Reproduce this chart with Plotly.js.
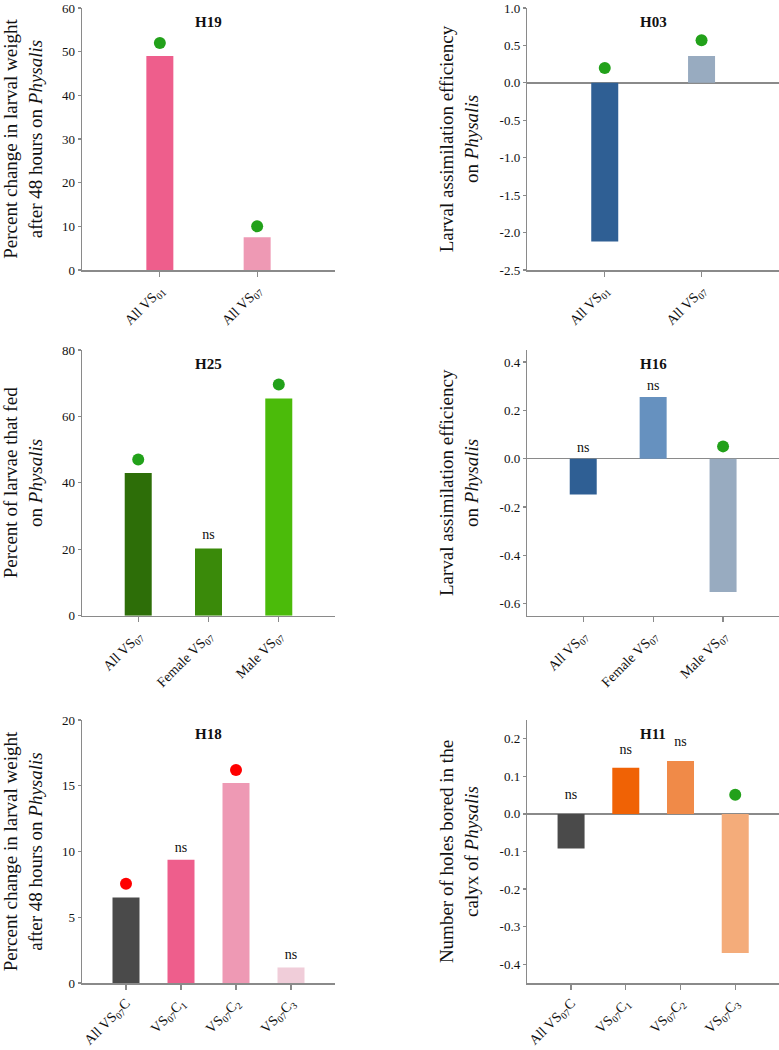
<!DOCTYPE html>
<html>
<head>
<meta charset="utf-8">
<script src="https://cdn.plot.ly/plotly-3.0.1.min.js"></script>
<style>html,body{margin:0;padding:0;background:#fff;}#chart{width:779px;height:1050px;}</style>
</head>
<body>
<div id="chart"></div>
<script>
// ---- Data ----
const h19Categories = ["All VS<sub>01</sub>", "All VS<sub>07</sub>"];
const h19Values = [49, 7.5];
const h19Colors = ["#EE5E8C", "#EE99B4"];
const h19Sig = ["green", "green"];
const h19SigY = [52, 10];

const h03Categories = ["All VS<sub>01</sub>", "All VS<sub>07</sub>"];
const h03Values = [-2.12, 0.36];
const h03Colors = ["#2F5F94", "#98ABC0"];
const h03Sig = ["green", "green"];
const h03SigY = [0.2, 0.57];

const h25Categories = ["All VS<sub>07</sub>", "Female VS<sub>07</sub>", "Male VS<sub>07</sub>"];
const h25Values = [43, 20.2, 65.4];
const h25Colors = ["#2D6E08", "#3A8A0A", "#4BBB0A"];
const h25Sig = ["green", "ns", "green"];
const h25SigY = [47, 24, 69.6];

const h16Categories = ["All VS<sub>07</sub>", "Female VS<sub>07</sub>", "Male VS<sub>07</sub>"];
const h16Values = [-0.148, 0.255, -0.552];
const h16Colors = ["#2F5F94", "#6691BF", "#98ABC0"];
const h16Sig = ["ns", "ns", "green"];
const h16SigY = [0.044, 0.297, 0.051];

const h18Categories = ["All VS<sub>07</sub>C", "VS<sub>07</sub>C<sub>1</sub>", "VS<sub>07</sub>C<sub>2</sub>", "VS<sub>07</sub>C<sub>3</sub>"];
const h18Values = [6.5, 9.37, 15.2, 1.18];
const h18Colors = ["#4A4A4A", "#EE5E8C", "#EE99B4", "#F0CDD9"];
const h18Sig = ["red", "ns", "red", "ns"];
const h18SigY = [7.54, 10.25, 16.2, 2.09];

const h11Categories = ["All VS<sub>07</sub>C", "VS<sub>07</sub>C<sub>1</sub>", "VS<sub>07</sub>C<sub>2</sub>", "VS<sub>07</sub>C<sub>3</sub>"];
const h11Values = [-0.092, 0.123, 0.141, -0.37];
const h11Colors = ["#4A4A4A", "#F06205", "#F08A48", "#F4AC7A"];
const h11Sig = ["ns", "ns", "ns", "green"];
const h11SigY = [0.048, 0.17, 0.189, 0.051];

const tickVals1 = [0, 10, 20, 30, 40, 50, 60];
const tickText1 = ["0", "10", "20", "30", "40", "50", "60"];
const tickVals2 = [-2.5, -2.0, -1.5, -1.0, -0.5, 0.0, 0.5, 1.0];
const tickText2 = ["-2.5", "-2.0", "-1.5", "-1.0", "-0.5", "0.0", "0.5", "1.0"];
const tickVals3 = [0, 20, 40, 60, 80];
const tickText3 = ["0", "20", "40", "60", "80"];
const tickVals4 = [-0.6, -0.4, -0.2, 0.0, 0.2, 0.4];
const tickText4 = ["-0.6", "-0.4", "-0.2", "0.0", "0.2", "0.4"];
const tickVals5 = [0, 5, 10, 15, 20];
const tickText5 = ["0", "5", "10", "15", "20"];
const tickVals6 = [-0.4, -0.3, -0.2, -0.1, 0.0, 0.1, 0.2];
const tickText6 = ["-0.4", "-0.3", "-0.2", "-0.1", "0.0", "0.1", "0.2"];

const yTitle1 = "Percent change in larval weight<br>after 48 hours on <i>Physalis</i>";
const yTitle2 = "Larval assimilation efficiency<br>on <i>Physalis</i>";
const yTitle3 = "Percent of larvae that fed<br>on <i>Physalis</i>";
const yTitle4 = "Larval assimilation efficiency<br>on <i>Physalis</i>";
const yTitle5 = "Percent change in larval weight<br>after 48 hours on <i>Physalis</i>";
const yTitle6 = "Number of holes bored in the<br>calyx of <i>Physalis</i>";

// ---- Build ----
const FONT = "Liberation Serif";
const GREEN = "#22A11A", RED = "#FF0000", AXIS = "#8A8A8A";
const W = 779, H = 1050;

const panels = [
  {name: "H19", cats: h19Categories, vals: h19Values, colors: h19Colors, sig: h19Sig, sigY: h19SigY,
   tv: tickVals1, tt: tickText1, yr: [0, 60], title: yTitle1, px: [82, 335], py: [8, 270], zero: false},
  {name: "H03", cats: h03Categories, vals: h03Values, colors: h03Colors, sig: h03Sig, sigY: h03SigY,
   tv: tickVals2, tt: tickText2, yr: [-2.5, 1.0], title: yTitle2, px: [527.3, 779], py: [8, 270], zero: true},
  {name: "H25", cats: h25Categories, vals: h25Values, colors: h25Colors, sig: h25Sig, sigY: h25SigY,
   tv: tickVals3, tt: tickText3, yr: [0, 80], title: yTitle3, px: [82, 335], py: [350, 615.7], zero: false},
  {name: "H16", cats: h16Categories, vals: h16Values, colors: h16Colors, sig: h16Sig, sigY: h16SigY,
   tv: tickVals4, tt: tickText4, yr: [-0.65, 0.45], title: yTitle4, px: [527.3, 779], py: [350, 615.7], zero: true},
  {name: "H18", cats: h18Categories, vals: h18Values, colors: h18Colors, sig: h18Sig, sigY: h18SigY,
   tv: tickVals5, tt: tickText5, yr: [0, 20], title: yTitle5, px: [82, 335], py: [720, 983], zero: false},
  {name: "H11", cats: h11Categories, vals: h11Values, colors: h11Colors, sig: h11Sig, sigY: h11SigY,
   tv: tickVals6, tt: tickText6, yr: [-0.45, 0.25], title: yTitle6, px: [527.3, 779], py: [720, 983], zero: true}
];

const data = [];
const layout = {
  width: W, height: H,
  margin: {l: 0, r: 0, t: 0, b: 0},
  paper_bgcolor: "#fff", plot_bgcolor: "rgba(0,0,0,0)",
  showlegend: false,
  font: {family: FONT, color: "#111", size: 13},
  annotations: []
};

panels.forEach((p, i) => {
  const k = i + 1;
  const xa = k === 1 ? "x" : "x" + k;
  const ya = k === 1 ? "y" : "y" + k;
  const n = p.cats.length;
  const plotW = p.px[1] - p.px[0];
  const barW = 27 / (plotW / (n + 0.6));

  data.push({
    type: "bar", x: p.cats, y: p.vals, xaxis: xa, yaxis: ya,
    marker: {color: p.colors, line: {width: 0}}, width: barW,
    hoverinfo: "x+y"
  });
  data.push({
    type: "scatter", mode: "markers", xaxis: xa, yaxis: ya,
    x: p.cats, y: p.sig.map((s, j) => s === "green" ? p.sigY[j] : null),
    marker: {color: GREEN, size: 12}, cliponaxis: false
  });
  data.push({
    type: "scatter", mode: "markers", xaxis: xa, yaxis: ya,
    x: p.cats, y: p.sig.map((s, j) => s === "red" ? p.sigY[j] : null),
    marker: {color: RED, size: 12}, cliponaxis: false
  });
  data.push({
    type: "scatter", mode: "text", xaxis: xa, yaxis: ya,
    x: p.cats, y: p.sig.map((s, j) => s === "ns" ? p.sigY[j] : null),
    text: p.sig.map(s => s === "ns" ? "ns" : ""),
    textposition: "middle center", textfont: {family: FONT, size: 14, color: "#111"},
    cliponaxis: false
  });

  const xKey = k === 1 ? "xaxis" : "xaxis" + k;
  const yKey = k === 1 ? "yaxis" : "yaxis" + k;
  layout[xKey] = {
    domain: [p.px[0] / W, p.px[1] / W],
    anchor: ya, type: "category", categoryorder: "array", categoryarray: p.cats,
    range: [-0.8, n - 0.2],
    showline: true, linecolor: AXIS, linewidth: 1.5,
    ticks: "outside", ticklen: 5, tickcolor: AXIS, tickwidth: 1.2,
    tickangle: -45, tickfont: {family: FONT, size: 14, color: "#111"},
    ticklabeloverflow: "allow",
    showgrid: false, zeroline: false, fixedrange: true
  };
  layout[yKey] = {
    domain: [1 - p.py[1] / H, 1 - p.py[0] / H],
    anchor: xa, range: p.yr,
    tickmode: "array", tickvals: p.tv, ticktext: p.tt,
    showline: true, linecolor: AXIS, linewidth: 1.5,
    ticks: "outside", ticklen: 3, tickcolor: AXIS, tickwidth: 1.2,
    tickfont: {family: FONT, size: 13, color: "#111"},
    ticklabeloverflow: "allow",
    showgrid: false,
    zeroline: p.zero, zerolinecolor: AXIS, zerolinewidth: 1.5,
    title: {text: p.title, font: {family: FONT, size: 19, color: "#111"}, standoff: 16},
    fixedrange: true
  };
  layout.annotations.push({
    text: "<b>" + p.name + "</b>", xref: xa + " domain", yref: ya + " domain",
    x: 0.5, y: 1 - 14 / (p.py[1] - p.py[0]), xanchor: "center", yanchor: "middle",
    showarrow: false, font: {family: FONT, size: 15, color: "#111"}
  });
});

Plotly.newPlot("chart", data, layout, {displayModeBar: false, staticPlot: true});
</script>
</body>
</html>
